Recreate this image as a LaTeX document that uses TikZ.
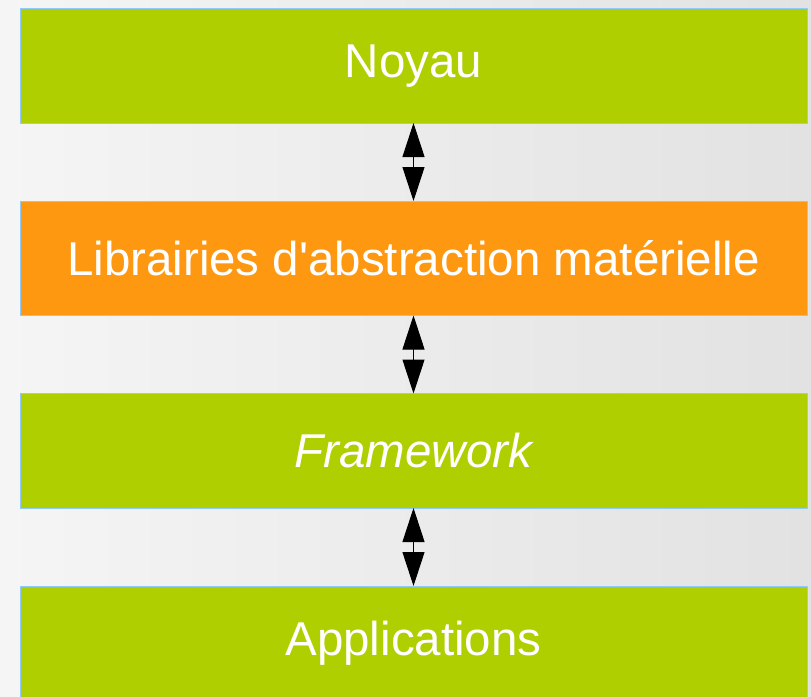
\documentclass[tikz,border=0pt]{standalone}
\usepackage{fontspec}
\setmainfont{Liberation Sans}
\usepackage{tikz}
\usetikzlibrary{arrows.meta,positioning}

\definecolor{vert}{RGB}{175,207,0}
\definecolor{orange}{RGB}{255,152,17}
\definecolor{bord}{RGB}{144,202,249}
\definecolor{fondg}{RGB}{245,245,245}
\definecolor{fondd}{RGB}{226,226,226}

\begin{document}
\begin{tikzpicture}[x=1pt,y=1pt,>={Triangle[length=34pt,width=22pt]},node distance=78pt,
	couche/.style={draw=bord,line width=1pt,fill=vert,text=white,minimum width=787pt,minimum height=114.5pt,outer sep=0pt,inner sep=0pt,font=\fontsize{47.5}{55}\selectfont}]
		\shade[left color=fondg,right color=fondd] (0,0) rectangle (811,-696);
		\useasboundingbox (0,0) rectangle (811,-696);
		\node[couche]             (NOYAU)        at (413.5,-65.75) {\raisebox{-3pt}{Noyau}};
		\node[couche,fill=orange] (HAL)  [below=of NOYAU]  {\raisebox{-3pt}{Librairies d\textquotesingle abstraction matérielle}};
		\node[couche]             (FRAMEWORK) [below=of HAL]  {\raisebox{-3pt}{\itshape Framework}};
		\node[couche]             (APPLICATIONS) [below=of FRAMEWORK]  {\raisebox{-3pt}{Applications}};
		\path[<->,line width=1pt] (NOYAU)     edge (HAL)
		                          (HAL)       edge (FRAMEWORK)
		                          (FRAMEWORK) edge (APPLICATIONS);
	\end{tikzpicture}
\end{document}
